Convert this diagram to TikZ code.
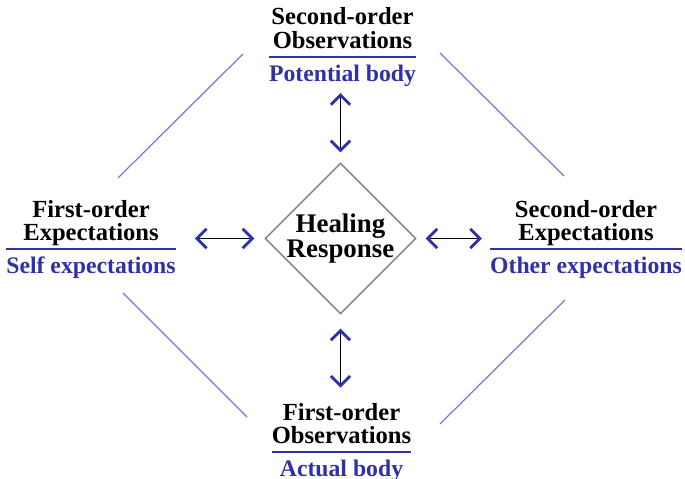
\documentclass[tikz,border=0pt]{standalone}
\usepackage{fontspec}
\setmainfont{Liberation Serif}
\usepackage{colortbl}
\usetikzlibrary{arrows.meta,shapes.geometric}
\definecolor{txtblue}{RGB}{48,48,168}
\definecolor{lineblue}{RGB}{120,120,215}
\tikzset{>={Straight Barb[color=txtblue,length=5.5pt,width=11pt,line width=1.6pt]}}
\newcommand{\orderlabel}[3]{%
  \setlength{\arrayrulewidth}{1.2pt}\arrayrulecolor{txtblue}%
  \begin{tabular}[t]{@{}c@{}}#1\\#2\\[1pt]\hline
  \rule{0pt}{13.5pt}\fontsize{13.5}{11.3}\selectfont\textcolor{txtblue}{#3}\end{tabular}}

\begin{document}
\begin{tikzpicture}[x=0.02cm,y=-0.02cm,
    lbl/.style={anchor=base,inner sep=0pt,font=\fontsize{14}{11.3}\selectfont\bfseries},
    heal/.style={diamond,draw=gray,line width=0.8pt,inner sep=-2.2pt,minimum size=3.02cm,
      align=center,font=\fontsize{15.3}{11.3}\selectfont\bfseries},
    link/.style={<->,line width=1.1pt},
    side/.style={lineblue,line width=0.7pt}]
    \useasboundingbox (0,0) rectangle (685,479);
    % Healing response in the middle
    \node[heal] (hr) at (340.5,238.5) {Healing\\Response};
    % Observations and expectations
    \node[lbl] (so) at (342.5,25) {\orderlabel{Second-order}{Observations}{Potential body}};
    \node[lbl] (fe) at (91,217) {\orderlabel{First-order}{Expectations}{Self expectations}};
    \node[lbl] (se) at (586,217) {\orderlabel{Second-order}{Expectations}{Other expectations}};
    \node[lbl] (fo) at (341.5,420) {\orderlabel{First-order}{Observations}{Actual body}};
    % Double arrows to the diamond
    \draw[link,shorten <=5.7pt,shorten >=3pt] (hr.north) -- (hr.north |- so.south);
    \draw[link,shorten <=7.9pt,shorten >=8.5pt] (hr.south) -- (hr.south |- fo.north);
    \draw[link,shorten <=5.7pt,shorten >=10.8pt] (hr.west) -- (hr.west -| fe.east);
    \draw[link,shorten <=5.1pt,shorten >=4.5pt] (hr.east) -- (hr.east -| se.west);
    % Outer frame lines
    \draw[side] (118,178) -- (243,54);
    \draw[side] (440,53) -- (564,176);
    \draw[side] (123,293) -- (247,417);
    \draw[side] (565,300) -- (440,424);
\end{tikzpicture}
\end{document}
